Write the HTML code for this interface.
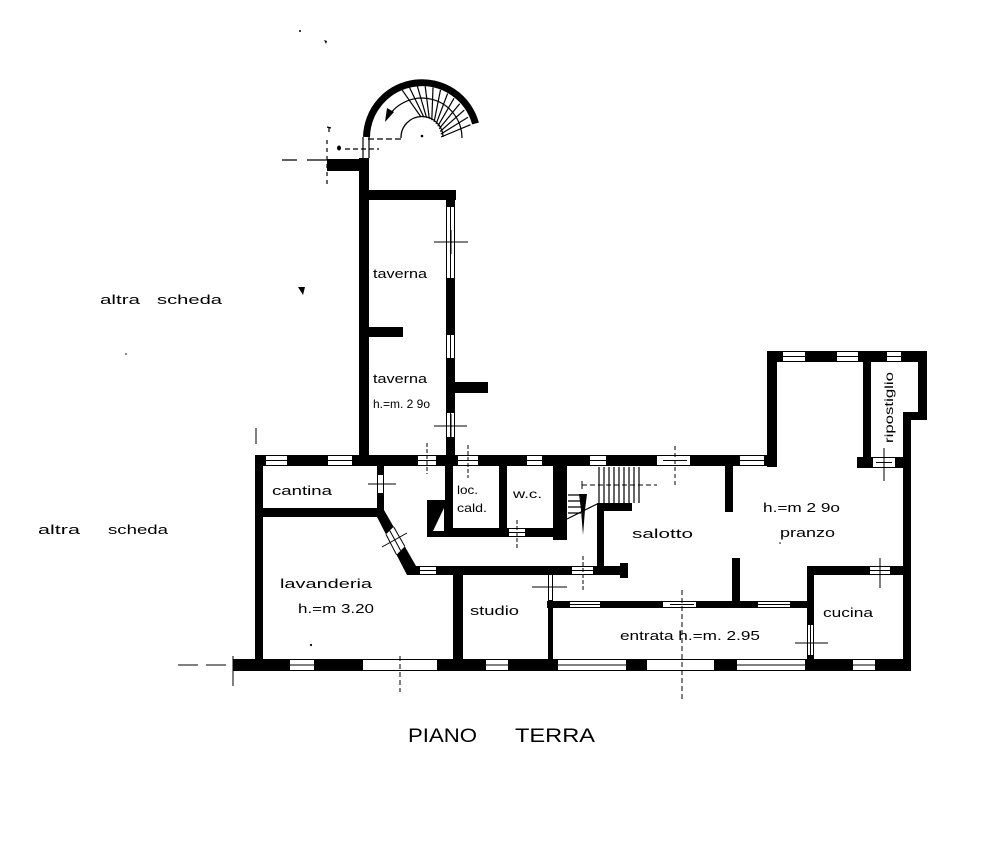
<!DOCTYPE html>
<html><head><meta charset="utf-8"><style>
html,body{margin:0;padding:0;background:#fff;}
svg{display:block;}
text{font-family:"Liberation Sans",sans-serif;fill:#000;}
</style></head><body>
<svg width="1000" height="850" viewBox="0 0 1000 850" xmlns="http://www.w3.org/2000/svg">
<rect width="1000" height="850" fill="#fff"/>

<!-- ===== spiral stair ===== -->
<path d="M366.5,137 A55.5,55.5 0 0 1 475.5,123.5" fill="none" stroke="#000" stroke-width="7"/>
<path d="M401,138 A21,21 0 0 1 443,137" fill="none" stroke="#000" stroke-width="1.3"/>
<path d="M388,117 A40,40 0 0 1 462,138" fill="none" stroke="#000" stroke-width="1.2"/>
<polygon points="385,122 387,108 394,112" fill="#000"/>
<g stroke="#000" stroke-width="1.2">
<line x1="421" y1="117" x2="401.9" y2="89.7"/>
<line x1="423.9" y1="117.2" x2="409.4" y2="87.3"/>
<line x1="426.6" y1="117.8" x2="417.3" y2="86.1"/>
<line x1="429.3" y1="118.8" x2="425.2" y2="86.2"/>
<line x1="431.8" y1="120.2" x2="433" y2="87.4"/>
<line x1="434.1" y1="121.9" x2="440.5" y2="89.9"/>
<line x1="436.1" y1="123.9" x2="447.6" y2="93.5"/>
<line x1="437.8" y1="126.2" x2="454.1" y2="98.2"/>
<line x1="439.2" y1="128.7" x2="459.7" y2="103.7"/>
<line x1="440.2" y1="131.4" x2="464.3" y2="110.1"/>
<line x1="440.8" y1="134.1" x2="468" y2="117.2"/>
<line x1="441" y1="137" x2="470.5" y2="124.7"/>
</g>
<circle cx="422" cy="136" r="1.3" fill="#000"/>
<g stroke="#000" stroke-width="1.2" fill="none">
<path d="M368,139 H401" stroke-dasharray="6,3"/>
<path d="M345,149 H379" stroke-dasharray="5,3"/>
<path d="M363,137 V158 M369,137 V158"/>
<path d="M327,140 V188" stroke-dasharray="4,4"/>
<path d="M282,160 H297 M307,160 H327" />
</g>
<ellipse cx="339" cy="148" rx="2" ry="2.5" fill="#000"/>
<path d="M327,127 L331,128 M329,128 V132" stroke="#000" stroke-width="1.2"/>
<circle cx="300" cy="31" r="1" fill="#000"/>
<path d="M324,40 l3,1 -1,3 z" fill="#000"/>

<!-- ===== walls ===== -->
<g fill="#000">
<rect x="255" y="455" width="522" height="11"/>
<rect x="255" y="455" width="8" height="216"/>
<rect x="233" y="659" width="678" height="12"/>
<rect x="903" y="412" width="8" height="259"/>
<rect x="767" y="351" width="160" height="11"/>
<rect x="767" y="351" width="10" height="116"/>
<rect x="918" y="351" width="9" height="69"/>
<rect x="903" y="412" width="24" height="8"/>
<rect x="863" y="351" width="8" height="117"/>
<rect x="857" y="457" width="54" height="11"/>
<rect x="359" y="158" width="10" height="308"/>
<rect x="359" y="190" width="97" height="10"/>
<rect x="446" y="190" width="9" height="276"/>
<rect x="369" y="327" width="34" height="10"/>
<rect x="455" y="382" width="33" height="11"/>
<rect x="327" y="159" width="42" height="12"/>
<rect x="255" y="508" width="129" height="9"/>
<rect x="377" y="466" width="7" height="46"/>
<polygon points="377,510 384,510 416,566 416,575 407,575 377,517"/>
<rect x="445" y="466" width="8" height="71"/>
<rect x="499" y="466" width="8" height="71"/>
<rect x="553" y="466" width="14" height="74"/>
<rect x="427" y="528" width="140" height="9"/>
<rect x="427" y="500" width="18" height="37"/>
<rect x="597" y="503" width="7" height="64"/>
<rect x="597" y="503" width="35" height="8"/>
<rect x="407" y="566" width="221" height="9"/>
<rect x="620" y="563" width="8" height="15"/>
<rect x="453" y="566" width="10" height="105"/>
<rect x="548" y="575" width="5" height="96"/>
<rect x="547" y="601" width="260" height="7"/>
<rect x="725" y="466" width="8" height="46"/>
<rect x="732" y="558" width="8" height="45"/>
<rect x="807" y="566" width="104" height="9"/>
<rect x="807" y="566" width="7" height="105"/>
<polygon points="579,494 587,494 585,510 583,535 581,510"/>
</g>
<polygon points="433,531 444,531 444,508" fill="#fff"/>

<!-- ===== windows / openings ===== -->
<g fill="#fff">
<!-- top wall 455-466 -->
<rect x="266" y="455" width="21" height="11"/><rect x="328" y="455" width="24" height="11"/>
<rect x="418" y="455" width="18" height="11"/><rect x="458" y="455" width="20" height="11"/>
<rect x="527" y="455" width="15" height="11"/><rect x="590" y="455" width="16" height="11"/>
<rect x="657" y="455" width="33" height="11"/><rect x="740" y="455" width="24" height="11"/>
<!-- pranzo top 351-362 -->
<rect x="783" y="351" width="22" height="11"/><rect x="837" y="351" width="21" height="11"/><rect x="887" y="351" width="14" height="11"/>
<!-- ripostiglio bottom -->
<rect x="873" y="457" width="22" height="11"/>
<!-- bottom wall 659-671 -->
<rect x="290" y="659" width="24" height="12"/><rect x="363" y="659" width="74" height="12"/>
<rect x="486" y="659" width="22" height="12"/><rect x="558" y="659" width="68" height="12"/>
<rect x="647" y="659" width="67" height="12"/><rect x="737" y="659" width="68" height="12"/>
<rect x="853" y="659" width="22" height="12"/>
<!-- taverna right wall -->
<rect x="446" y="207" width="9" height="71"/><rect x="446" y="335" width="9" height="23"/><rect x="446" y="413" width="9" height="24"/>
<!-- cantina door -->
<rect x="377" y="475" width="7" height="18"/>
<!-- corridor -->
<rect x="420" y="566" width="16" height="9"/><rect x="572" y="566" width="21" height="9"/>
<!-- wc door -->
<rect x="509" y="528" width="16" height="9"/>
<!-- entrata top -->
<rect x="570" y="601" width="30" height="7"/><rect x="663" y="601" width="33" height="7"/><rect x="758" y="601" width="32" height="7"/>
<!-- cucina -->
<rect x="870" y="566" width="20" height="9"/><rect x="807" y="625" width="7" height="30"/>
<!-- studio door -->
<rect x="548" y="575" width="5" height="25"/>
<!-- diagonal window -->
<polygon points="393.6,526.8 404.8,546.4 396.5,554.7 386,534.4"/>
</g>

<g stroke="#000" stroke-width="1" fill="none">
<!-- top wall windows -->
<path d="M266,455.5H287M266,460.5H287M266,465.5H287"/>
<path d="M328,455.5H352M328,460.5H352M328,465.5H352"/>
<path d="M527,455.5H542M527,460.5H542M527,465.5H542"/>
<path d="M590,455.5H606M590,460.5H606M590,465.5H606"/>
<path d="M740,455.5H764M740,460.5H764M740,465.5H764"/>
<path d="M418,455.5H436M418,465.5H436M415,460.5H439"/>
<path d="M458,455.5H478M458,465.5H478M455,460.5H481"/>
<path d="M657,455.5H690M657,465.5H690M663,460.5H687"/>
<!-- pranzo -->
<path d="M783,351.5H805M783,356.5H805M783,361.5H805"/>
<path d="M837,351.5H858M837,356.5H858M837,361.5H858"/>
<path d="M887,351.5H901M887,356.5H901M887,361.5H901"/>
<path d="M873,457.5H895M873,467.5H895M876,462.5H892"/>
<!-- bottom -->
<path d="M290,659.5H314M290,665H314M290,670.5H314"/>
<path d="M363,659.5H437M363,670.5H437"/>
<path d="M486,659.5H508M486,665H508M486,670.5H508"/>
<path d="M558,659.5H626M558,665H626M558,670.5H626"/>
<path d="M647,659.5H714M647,670.5H714"/>
<path d="M737,659.5H805M737,665H805M737,670.5H805"/>
<path d="M853,659.5H875M853,665H875M853,670.5H875"/>
<!-- taverna -->
<path d="M446.5,207V278M454.5,207V278M450.5,207V278"/>
<path d="M446.5,335V358M454.5,335V358M450.5,335V358"/>
<path d="M446.5,413V437M454.5,413V437M450.5,413V437"/>
<path d="M434,242H468M434,426H467"/>
<!-- cantina door -->
<path d="M377.5,475V493M383.5,475V493M368,484H396"/>
<!-- corridor -->
<path d="M420,566.5H436M420,570.5H436M420,574.5H436"/>
<path d="M572,566.5H593M572,574.5H593M569,570.5H596"/>
<!-- wc door -->
<path d="M509,528.5H525M509,536.5H525M506,532.5H528"/>
<!-- entrata top -->
<path d="M570,601.5H600M570,604.5H600M570,607.5H600"/>
<path d="M663,601.5H696M663,607.5H696M670,604.5H694"/>
<path d="M758,601.5H790M758,604.5H790M758,607.5H790"/>
<!-- cucina -->
<path d="M870,566.5H890M870,574.5H890M867,570.5H893"/>
<path d="M807.5,625V655M813.5,625V655M810.5,625V655M795,643H828"/>
<!-- studio door -->
<path d="M548.5,575V600M552.5,575V600M532,587H567"/>
<!-- diagonal window -->
<path d="M393.6,526.8L404.8,546.4M386,534.4L396.5,554.7M389.8,530.6L400.6,550.5M382,547L407,533"/>
</g>

<!-- cross verticals / dashed -->
<g stroke="#000" stroke-width="1" fill="none">
<path d="M427,443V474" stroke-dasharray="4,2"/>
<path d="M468,445V478" stroke-dasharray="4,2"/>
<path d="M675,446V485" stroke-dasharray="4,3"/>
<path d="M884,448V481"/>
<path d="M517,520V548" stroke-dasharray="4,2"/>
<path d="M583,556V590" stroke-dasharray="4,2"/>
<path d="M682,590V700" stroke-dasharray="5,3"/>
<path d="M880,558V588"/>
<path d="M451,230V254M451,414V440"/>
<path d="M400,656V692" stroke-dasharray="5,3"/>
<path d="M233,656V686"/>
<path d="M178,665H198M206,665H226"/>
<path d="M256,428V444"/>
<path d="M582,485H657" stroke-dasharray="5,3"/>
<path d="M582,481V489"/>
</g>

<!-- straight stair -->
<g stroke="#000" stroke-width="1.2">
<path d="M599,467V503M604,467V503M609,467V503M614,467V503M619,467V503M624,467V503M629,467V503M634,467V503M639,467V503"/>
<path d="M568,495H580M568,501H581M568,507H582M568,513H581M567,519L597,504"/>
</g>

<!-- small marks -->
<polygon points="298,287 305,287 303,295" fill="#000"/>
<circle cx="126" cy="354" r="0.8" fill="#000"/>
<circle cx="311" cy="645" r="1.1" fill="#000"/>
<circle cx="780" cy="543" r="0.8" fill="#000"/>

<!-- ===== labels ===== -->
<g font-size="13">
<text x="100" y="304" textLength="40" lengthAdjust="spacingAndGlyphs">altra</text>
<text x="157" y="304" textLength="65" lengthAdjust="spacingAndGlyphs">scheda</text>
<text x="38" y="534" textLength="42" lengthAdjust="spacingAndGlyphs">altra</text>
<text x="108" y="534" textLength="60" lengthAdjust="spacingAndGlyphs">scheda</text>
<text x="373" y="278" textLength="54" lengthAdjust="spacingAndGlyphs">taverna</text>
<text x="373" y="383" textLength="54" lengthAdjust="spacingAndGlyphs">taverna</text>
<text x="373" y="408" textLength="57" lengthAdjust="spacingAndGlyphs" font-size="12">h.=m. 2 9o</text>
<text x="272" y="495" textLength="60" lengthAdjust="spacingAndGlyphs">cantina</text>
<text x="457" y="494" textLength="21" lengthAdjust="spacingAndGlyphs" font-size="12">loc.</text>
<text x="457" y="512" textLength="30" lengthAdjust="spacingAndGlyphs" font-size="12">cald.</text>
<text x="513" y="498" textLength="29" lengthAdjust="spacingAndGlyphs" font-size="12">w.c.</text>
<text x="632" y="538" textLength="61" lengthAdjust="spacingAndGlyphs">salotto</text>
<text x="763" y="512" textLength="77" lengthAdjust="spacingAndGlyphs">h.=m 2 9o</text>
<text x="780" y="537" textLength="55" lengthAdjust="spacingAndGlyphs">pranzo</text>
<text transform="translate(893,443) rotate(-90)" textLength="71" lengthAdjust="spacingAndGlyphs" font-size="12">ripostiglio</text>
<text x="280" y="588" textLength="92" lengthAdjust="spacingAndGlyphs">lavanderia</text>
<text x="298" y="613" textLength="76" lengthAdjust="spacingAndGlyphs">h.=m 3.20</text>
<text x="470" y="615" textLength="49" lengthAdjust="spacingAndGlyphs">studio</text>
<text x="620" y="640" textLength="140" lengthAdjust="spacingAndGlyphs">entrata h.=m. 2.95</text>
<text x="823" y="617" textLength="50" lengthAdjust="spacingAndGlyphs">cucina</text>
</g>
<g font-size="19">
<text x="408" y="742" textLength="69" lengthAdjust="spacingAndGlyphs">PIANO</text>
<text x="515" y="742" textLength="80" lengthAdjust="spacingAndGlyphs">TERRA</text>
</g>
</svg>
</body></html>
